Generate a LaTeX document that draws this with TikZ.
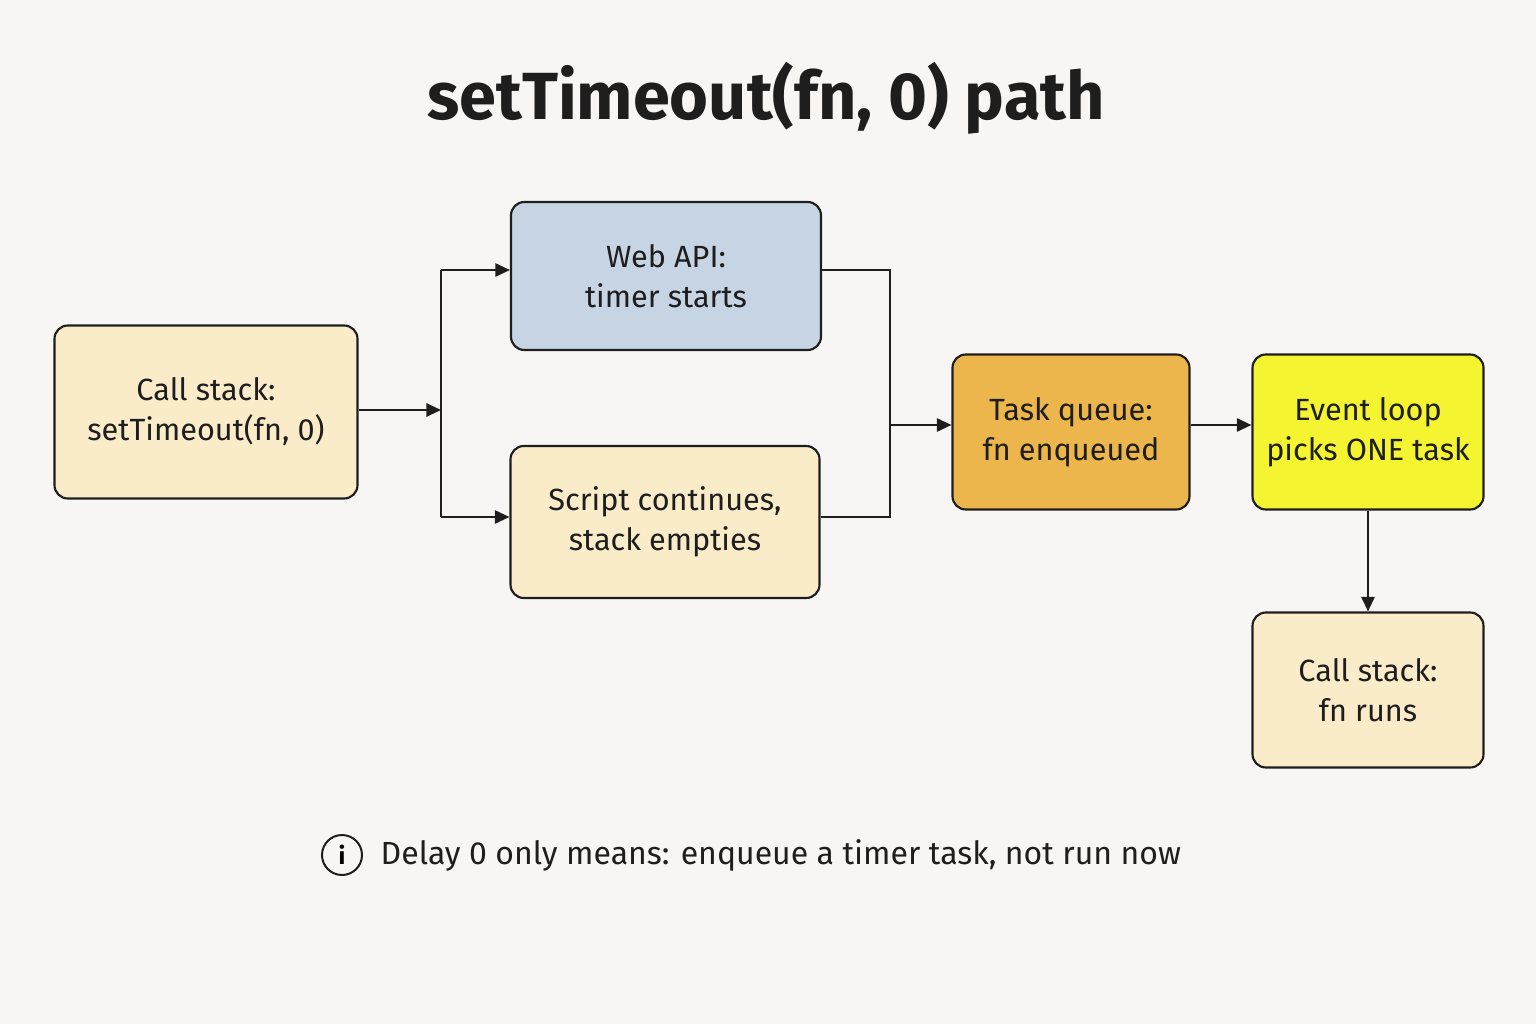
\documentclass[tikz,border=0pt]{standalone}
\usepackage{fontspec}
\setmainfont{Fira Sans}
\usetikzlibrary{arrows.meta}
\definecolor{bg}{HTML}{F7F6F5}
\definecolor{cream}{HTML}{FAEBC9}
\definecolor{blue}{HTML}{C6D4E4}
\definecolor{orange}{HTML}{EDB64C}
\definecolor{yel}{HTML}{F4F430}
\definecolor{ink}{HTML}{1E1E1E}
\begin{document}
\begin{tikzpicture}[x=0.75pt,y=-0.75pt,
 box/.style={draw=ink,line width=1.6pt,rounded corners=10pt,align=center,font=\fontsize{23}{30}\selectfont,text=ink,inner sep=0pt},
 ln/.style={draw=ink,line width=1.5pt},
 arr/.style={ln,-{Triangle[length=11pt,width=10pt]}}]
\fill[bg] (0,0) rectangle (1536,1024);
\useasboundingbox (0,0) rectangle (1536,1024);
\node[font=\fontsize{50}{60}\selectfont\bfseries,text=ink] (title) at (766,98) {setTimeout(fn, 0) path};
\node[box,fill=cream,minimum width=303*0.75pt,minimum height=173*0.75pt] (cs) at (206,412) {Call stack:\\setTimeout(fn, 0)};
\node[box,fill=blue,minimum width=310*0.75pt,minimum height=148*0.75pt] (web) at (666,276) {Web API:\\timer starts};
\node[box,fill=cream,minimum width=309*0.75pt,minimum height=152*0.75pt] (sc) at (665,522) {Script continues,\\stack empties};
\node[box,fill=orange,minimum width=237*0.75pt,minimum height=155*0.75pt] (tq) at (1071,432) {Task queue:\\fn enqueued};
\node[box,fill=yel,minimum width=231*0.75pt,minimum height=155*0.75pt] (el) at (1368,432) {Event loop\\picks ONE task};
\node[box,fill=cream,minimum width=231*0.75pt,minimum height=155*0.75pt] (run) at (1368,690) {Call stack:\\fn runs};
\coordinate (f) at (441,410);
\coordinate (m) at (890,425);
\draw[arr] (cs.east |- f) -- (f);
\draw[ln] (441,270) -- (441,517);
\draw[arr] (441,270) -- (web.west |- 0,270);
\draw[arr] (441,517) -- (sc.west |- 0,517);
\draw[ln] (web.east |- 0,270) -- (890,270) -- (890,517) -- (sc.east |- 0,517);
\draw[arr] (m) -- (tq.west |- m);
\draw[arr] (tq.east |- m) -- (el.west |- m);
\draw[arr] (el.south) -- (run.north);
\node[draw=ink,line width=1.5pt,circle,minimum size=40*0.75pt,inner sep=0pt,font=\fontsize{18}{20}\selectfont\bfseries] (info) at (342,855) {i};
\node[anchor=west,font=\fontsize{24}{30}\selectfont,text=ink] (note) at (376,855) {Delay 0 only means: enqueue a timer task, not run now};
\end{tikzpicture}
\end{document}
